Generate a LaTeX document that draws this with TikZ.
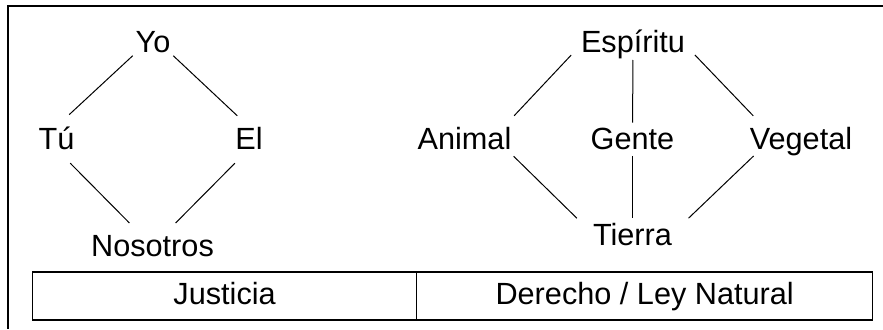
\documentclass[tikz,border=0pt]{standalone}
\usepackage{fontspec}
\setmainfont{Liberation Sans}
\tikzset{
  word/.style={anchor=base,inner sep=0pt,outer sep=0pt,font=\fontsize{23}{27}\selectfont},
  link/.style={line width=0.75pt},
  cell/.style={draw,line width=1.1pt,inner sep=0pt,minimum height=36pt,text height=16.5pt,text depth=3pt,font=\fontsize{23}{27}\selectfont}
}
\begin{document}
\begin{tikzpicture}[x=0.75pt,y=0.75pt,yscale=-1,xscale=1]
\useasboundingbox (0,0) rectangle (883,329);

%Frame
\draw [line width=1.5pt] (883,6.3) -| (8,329) ;

% Text Node
\node [word] (yo) at (153,52.7) {Yo};
% Text Node
\node [word] (tu) at (56.5,149) {Tú};
% Text Node
\node [word] (el) at (249,149) {El};
% Text Node
\node [word] (nosotros) at (152.5,256.7) {Nosotros};

% Text Node
\node [word] (espiritu) at (633,52.7) {Espíritu};
% Text Node
\node [word] (animal) at (464.5,149) {Animal};
% Text Node
\node [word] (gente) at (632.5,149) {Gente};
% Text Node
\node [word] (vegetal) at (801,149) {Vegetal};
% Text Node
\node [word] (tierra) at (632.5,245) {Tierra};

%Straight Lines
\draw [link, shorten <=3pt, shorten >=13pt] (yo.south west) -- (tu.north) ;
\draw [link, shorten <=3pt, shorten >=12pt] (yo.south east) -- (el.north) ;
\draw [link, shorten <=14.6pt, shorten >=24.6pt] (tu.south) -- (nosotros.center) ;
\draw [link, shorten <=15pt, shorten >=24.6pt] (el.south) -- (nosotros.center) ;

%Straight Lines
\draw [link, shorten <=10.8pt, shorten >=11.4pt] (espiritu.west) -- (animal.16) ;
\draw [link, shorten <=0.7pt, shorten >=3.7pt] (espiritu.south) -- (gente.north) ;
\draw [link, shorten <=10.8pt, shorten >=11.4pt] (espiritu.east) -- (vegetal.159) ;
\draw [link, shorten <=7.5pt, shorten >=17pt] (animal.-15) -- (tierra.west) ;
\draw [link, shorten <=5pt, shorten >=3.5pt] (gente.south) -- (tierra.north) ;
\draw [link, shorten <=0.7pt, shorten >=17.2pt] (vegetal.197) -- (tierra.east) ;

%Shape: Table
\node [cell, minimum width=288.15pt] (justicia) at (224.6,295.85) {Justicia};
\node [cell, minimum width=342pt] (derecho) at (644.7,295.85) {Derecho / Ley Natural};
\end{tikzpicture}
\end{document}
